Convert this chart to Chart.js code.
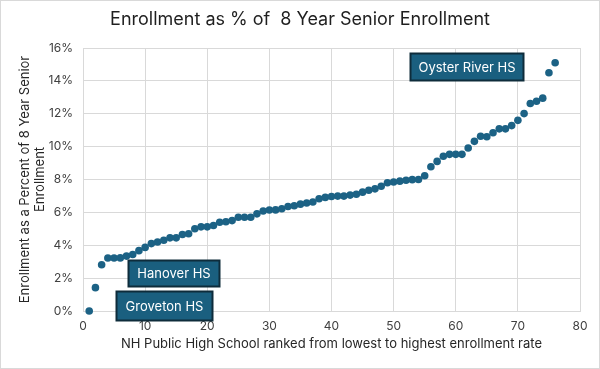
<!DOCTYPE html>
<html>
<head>
<meta charset="utf-8">
<script src="https://cdn.jsdelivr.net/npm/chart.js@4.4.0/dist/chart.umd.min.js"></script>
<style>
  html, body { margin: 0; padding: 0; background: #fff; }
  #wrap { width: 600px; height: 369px; position: relative; }
</style>
</head>
<body>
<div id="wrap"><canvas id="c" width="600" height="369"></canvas></div>
<script>
const chartTitle = "Enrollment as % of  8 Year Senior Enrollment";
const xAxisTitle = "NH Public High School ranked from lowest to highest enrollment rate";
const yAxisTitle = ["Enrollment as a Percent of 8 Year Senior", "Enrollment"];

const ranks = [1,2,3,4,5,6,7,8,9,10,11,12,13,14,15,16,17,18,19,20,
  21,22,23,24,25,26,27,28,29,30,31,32,33,34,35,36,37,38,39,40,
  41,42,43,44,45,46,47,48,49,50,51,52,53,54,55,56,57,58,59,60,
  61,62,63,64,65,66,67,68,69,70,71,72,73,74,75,76];
const enrollmentPct = [0.00,1.42,2.81,3.22,3.22,3.23,3.34,3.44,3.67,3.87,
  4.10,4.20,4.30,4.45,4.45,4.65,4.70,5.00,5.12,5.12,
  5.20,5.40,5.43,5.50,5.70,5.70,5.70,5.91,6.08,6.14,
  6.15,6.22,6.36,6.40,6.50,6.57,6.63,6.83,6.91,6.97,
  6.99,6.99,7.05,7.10,7.23,7.35,7.43,7.59,7.80,7.85,
  7.90,7.95,7.99,8.00,8.23,8.78,9.10,9.41,9.53,9.53,
  9.53,9.92,10.32,10.63,10.60,10.84,11.08,11.08,11.28,11.60,
  12.01,12.62,12.76,12.95,14.49,15.10];

const calloutLabels = ["Oyster River HS", "Hanover HS", "Groveton HS"];
const calloutX = [61.7, 14.5, 13.0];
const calloutY = [14.9, 2.32, 0.35];
const calloutW = [113, 91, 96];
const calloutH = [27, 26, 29];

const points = ranks.map((r, i) => ({ x: r, y: enrollmentPct[i] }));

const FONT = "Inter, 'Open Sans', sans-serif";

const framePlugin = {
  id: 'frame',
  beforeDraw(chart) {
    const ctx = chart.ctx;
    ctx.save();
    ctx.fillStyle = '#ffffff';
    ctx.fillRect(0, 0, chart.width, chart.height);
    ctx.strokeStyle = '#d9d9d9';
    ctx.lineWidth = 1;
    ctx.strokeRect(0.5, 0.5, chart.width - 1, chart.height - 1);
    ctx.fillStyle = '#1f1f1f';
    ctx.font = "18px " + FONT;
    ctx.textAlign = 'center';
    ctx.textBaseline = 'middle';
    ctx.fillText(chartTitle, chart.width / 2, 20);
    ctx.restore();
  },
  afterDatasetsDraw(chart) {
    const ctx = chart.ctx;
    const xs = chart.scales.x, ys = chart.scales.y;
    ctx.save();
    calloutLabels.forEach((lab, i) => {
      const cx = xs.getPixelForValue(calloutX[i]);
      const cy = ys.getPixelForValue(calloutY[i]);
      const w = calloutW[i], h = calloutH[i];
      const x0 = Math.round(cx - w / 2) + 0.5, y0 = Math.round(cy - h / 2) + 0.5;
      ctx.fillStyle = '#1a5f7f';
      ctx.fillRect(x0, y0, w, h);
      ctx.strokeStyle = '#0e2c3b';
      ctx.lineWidth = 2;
      ctx.strokeRect(x0, y0, w, h);
      ctx.fillStyle = '#ffffff';
      ctx.font = "13px " + FONT;
      ctx.textAlign = 'center';
      ctx.textBaseline = 'middle';
      ctx.fillText(lab, x0 + w / 2, y0 + h / 2 + 1);
    });
    ctx.restore();
  }
};

new Chart(document.getElementById('c'), {
  type: 'scatter',
  data: {
    datasets: [{
      data: points,
      backgroundColor: '#1c6285',
      borderColor: '#1c6285',
      pointRadius: 3.8,
      pointHoverRadius: 3.8,
      borderWidth: 0,
      clip: false
    }]
  },
  options: {
    responsive: false,
    animation: false,
    devicePixelRatio: 1,
    layout: { padding: { top: 48, right: 20, bottom: 0, left: 0 } },
    plugins: {
      legend: { display: false },
      tooltip: { enabled: false },
      title: { display: false }
    },
    scales: {
      x: {
        type: 'linear',
        min: 0, max: 80,
        ticks: { stepSize: 10, color: '#404040', padding: 8, font: { family: FONT, size: 12 }, maxRotation: 0 },
        grid: { color: '#d9d9d9', drawTicks: false },
        border: { color: '#d9d9d9' },
        title: { display: true, text: xAxisTitle, color: '#262626', font: { family: FONT, size: 13, lineHeight: 1.15 }, padding: { top: 0, bottom: 17 } },
        afterFit(scale) { scale.height = 58; }
      },
      y: {
        min: 0, max: 16,
        ticks: { stepSize: 2, color: '#404040', padding: 10, font: { family: FONT, size: 12 }, callback: v => v + '%' },
        grid: { color: '#d9d9d9', drawTicks: false },
        border: { color: '#d9d9d9' },
        title: { display: true, text: yAxisTitle, color: '#262626', font: { family: FONT, size: 13, lineHeight: 1.15 }, padding: { top: 18, bottom: 0 } },
        afterFit(scale) { scale.width = 83; }
      }
    }
  },
  plugins: [framePlugin]
});
</script>
</body>
</html>
